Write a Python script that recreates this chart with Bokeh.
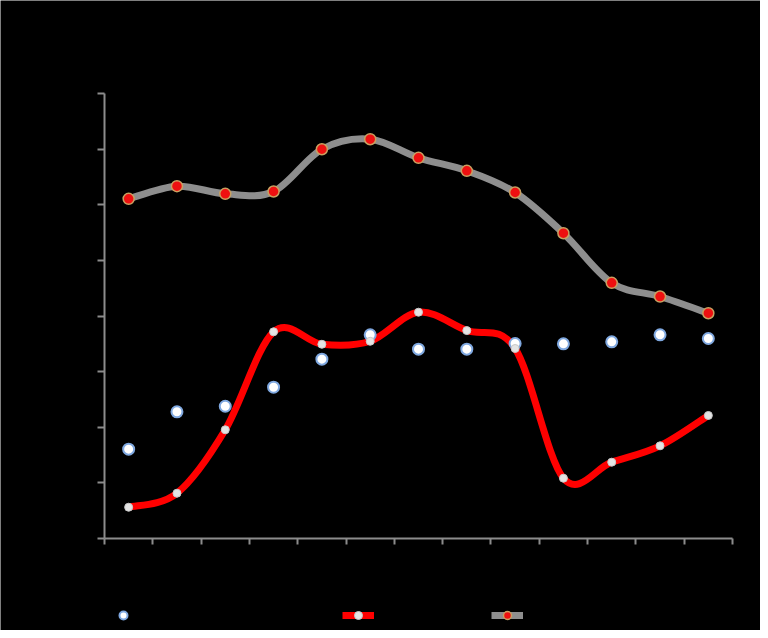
from bokeh.plotting import figure
from bokeh.models import FixedTicker, Legend, LegendItem, Range1d, Label
from bokeh.embed import file_html
from bokeh.resources import INLINE

title_text = "Precios Internacionales Agroquímicos Mar 2011 – Mar 2012"
months = ["Mar 2011", "Abr 2011", "May 2011", "Jun 2011", "Jul 2011", "Ago 2011",
          "Sep 2011", "Oct 2011", "Nov 2011", "Dic 2011", "Ene 2012", "Feb 2012", "Mar 2012"]
cloruro = [380.3, 413.9, 418.9, 436.0, 461.2, 483.1, 470.2, 470.2, 475.3, 475.0, 476.8, 483.1, 479.8]
urea = [328.1, 340.7, 397.7, 485.8, 474.6, 477.3, 503.4, 486.9, 470.8, 354.2, 368.6, 383.3, 410.6]
fosfato = [605.3, 616.7, 609.8, 611.9, 649.9, 658.9, 642.2, 630.5, 611.0, 574.4, 529.8, 517.5, 502.5]
y_ticks = [300, 350, 400, 450, 500, 550, 600, 650, 700]
y_tick_labels = ["$ 300,00", "$ 350,00", "$ 400,00", "$ 450,00", "$ 500,00",
                 "$ 550,00", "$ 600,00", "$ 650,00", "$ 700,00"]
series_names = ["Cloruro de Potasio", "Urea", "Fosfato diamónico"]

xs = [i + 0.5 for i in range(len(months))]

FONT = "Liberation Sans"
AXIS_COLOR = "#8c8c8c"
W, H = 760, 630
# pixel layout of the plotting area inside the canvas
LEFT, RIGHT, TOP, BOTTOM = 104, 732, 93, 538
N = len(months)
Y_MIN, Y_MAX = y_ticks[0], y_ticks[-1]
ux = (RIGHT - LEFT) / N            # px per category
uy = (BOTTOM - TOP) / (Y_MAX - Y_MIN)  # px per value unit

p = figure(width=W, height=H, output_backend="svg", toolbar_location=None,
           x_range=Range1d(-LEFT / ux, N + (W - RIGHT) / ux),
           y_range=Range1d(Y_MIN - (H - BOTTOM) / uy, Y_MAX + TOP / uy),
           min_border_left=0, min_border_right=0, min_border_top=0, min_border_bottom=0,
           background_fill_color="black", border_fill_color="black", outline_line_color=None)

p.xgrid.visible = False
p.ygrid.visible = False

p.xaxis.fixed_location = Y_MIN
p.xaxis.bounds = (0, N)
p.xaxis.ticker = FixedTicker(ticks=list(range(N + 1)))
p.xaxis.major_label_overrides = {i: "" for i in range(N + 1)}
p.xaxis.major_tick_out = 6
p.xaxis.major_tick_in = 0
p.xaxis.minor_tick_line_color = None
p.xaxis.axis_line_color = AXIS_COLOR
p.xaxis.axis_line_width = 2
p.xaxis.major_tick_line_color = AXIS_COLOR
p.xaxis.major_tick_line_width = 2

p.yaxis.fixed_location = 0
p.yaxis.bounds = (Y_MIN, Y_MAX)
p.yaxis.ticker = FixedTicker(ticks=y_ticks)
p.yaxis.major_label_overrides = {t: l for t, l in zip(y_ticks, y_tick_labels)}
p.yaxis.major_tick_out = 7
p.yaxis.major_tick_in = 0
p.yaxis.minor_tick_line_color = None
p.yaxis.axis_line_color = AXIS_COLOR
p.yaxis.axis_line_width = 2
p.yaxis.major_tick_line_color = AXIS_COLOR
p.yaxis.major_tick_line_width = 2
p.yaxis.major_label_text_color = "black"
p.yaxis.major_label_text_font = FONT
p.yaxis.major_label_text_font_size = "14px"
p.yaxis.major_label_text_font_style = "bold"
p.yaxis.major_label_standoff = 12

title = Label(x=(389 - LEFT) / ux, y=Y_MAX + (TOP - 23) / uy, text=title_text,
              text_align="center", text_baseline="middle", text_color="black",
              text_font=FONT, text_font_size="16px", text_font_style="bold")
p.add_layout(title)


def smooth_segments(x, y):
    # Bezier control points for a smoothed line through the data points
    n = len(x)
    x0, y0, x1, y1, cx0, cy0, cx1, cy1 = [], [], [], [], [], [], [], []
    for i in range(n - 1):
        ip = max(i - 1, 0)
        inn = min(i + 2, n - 1)
        x0.append(x[i]); y0.append(y[i]); x1.append(x[i + 1]); y1.append(y[i + 1])
        cx0.append(x[i] + (x[i + 1] - x[ip]) / 6.0)
        cy0.append(y[i] + (y[i + 1] - y[ip]) / 6.0)
        cx1.append(x[i + 1] - (x[inn] - x[i]) / 6.0)
        cy1.append(y[i + 1] - (y[inn] - y[i]) / 6.0)
    return dict(x0=x0, y0=y0, x1=x1, y1=y1, cx0=cx0, cy0=cy0, cx1=cx1, cy1=cy1)


fos_line = p.bezier(source=smooth_segments(xs, fosfato), x0="x0", y0="y0", x1="x1", y1="y1",
                    cx0="cx0", cy0="cy0", cx1="cx1", cy1="cy1",
                    line_color="#8e8e8e", line_width=7)
urea_line = p.bezier(source=smooth_segments(xs, urea), x0="x0", y0="y0", x1="x1", y1="y1",
                     cx0="cx0", cy0="cy0", cx1="cx1", cy1="cy1",
                     line_color="#ff0000", line_width=7)

clo_pts = p.scatter(xs, cloruro, size=11, marker="circle", fill_color="white",
                    line_color="#7fa8e0", line_width=2)
urea_pts = p.scatter(xs, urea, size=8, marker="circle", fill_color="#e4e4e4",
                     line_color="#c8c8c8", line_width=1)
fos_pts = p.scatter(xs, fosfato, size=11, marker="circle", fill_color="#ee1010",
                    line_color="#c8a060", line_width=1.5)

legend = Legend(items=[
    LegendItem(label=series_names[0], renderers=[clo_pts]),
    LegendItem(label=series_names[1], renderers=[urea_line, urea_pts]),
    LegendItem(label=series_names[2], renderers=[fos_line, fos_pts]),
], orientation="horizontal", location=(LEFT + 3, 5), glyph_width=32, glyph_height=20,
    label_standoff=4, spacing=83, padding=3, margin=0,
    border_line_color=None, background_fill_alpha=0,
    label_text_color="black", label_text_font=FONT, label_text_font_size="14px")
p.add_layout(legend)

open("out.html", "w").write(file_html(p, INLINE))
